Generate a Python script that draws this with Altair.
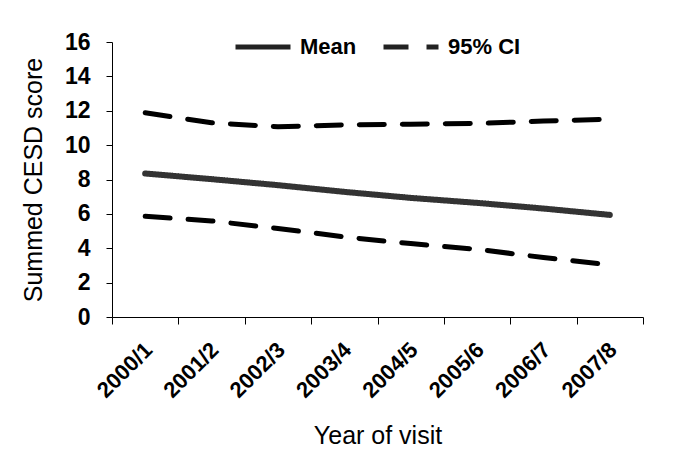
import altair as alt
import pandas as pd

years = ["2000/1", "2001/2", "2002/3", "2003/4", "2004/5", "2005/6", "2006/7", "2007/8"]
mean = [8.35, 8.02, 7.67, 7.28, 6.93, 6.64, 6.31, 5.94]
upper = [11.88, 11.30, 11.07, 11.18, 11.22, 11.26, 11.40, 11.51]
lower = [5.86, 5.59, 5.15, 4.66, 4.27, 3.94, 3.46, 3.03]
y_ticks = [0, 2, 4, 6, 8, 10, 12, 14, 16]
kinds = ["Mean", "95% CI"]

rows = []
for yr, m, u, l in zip(years, mean, upper, lower):
    rows.append({"year": yr, "value": m, "series": "Mean", "kind": "Mean"})
    rows.append({"year": yr, "value": u, "series": "Upper", "kind": "95% CI"})
    rows.append({"year": yr, "value": l, "series": "Lower", "kind": "95% CI"})
df = pd.DataFrame(rows)

FONT = "Liberation Sans"

x = alt.X(
    "year:N", sort=years, title="Year of visit",
    scale=alt.Scale(type="band", paddingInner=0, paddingOuter=0),
    axis=alt.Axis(labelAngle=315, tickBand="extent", labelAlign="right",
                  labelBaseline="middle", labelFontWeight="bold", labelFontSize=22,
                  labelPadding=22, labelOffset=3, tickSize=7, titleFontSize=25,
                  titleFontWeight="normal", titlePadding=22, domainColor="black",
                  tickColor="black", labelColor="black", titleColor="black"),
)
y = alt.Y(
    "value:Q", title="Summed CESD score",
    scale=alt.Scale(domain=[0, 16], nice=False),
    axis=alt.Axis(values=y_ticks, labelFontWeight="bold", labelFontSize=23,
                  tickSize=6, labelPadding=16, titleFontSize=25, titleFontWeight="normal",
                  titlePadding=18, domainColor="black", tickColor="black", grid=False,
                  labelColor="black", titleColor="black"),
)
dash = alt.StrokeDash(
    "kind:N",
    scale=alt.Scale(domain=kinds, range=[[1, 0], [25, 18]]),
    legend=alt.Legend(title=None, orient="none", direction="horizontal",
                      legendX=121, legendY=-25, symbolType="stroke", symbolSize=3025,
                      symbolStrokeWidth=5, symbolStrokeColor="#222222",
                      labelFontSize=22, labelFontWeight="bold", labelColor="black",
                      labelOffset=7, columnPadding=16),
)

mean_line = alt.Chart(df).transform_filter(alt.datum.kind == "Mean").mark_line(
    color="#333333", strokeWidth=6, strokeCap="round"
).encode(x=x, y=y, strokeDash=dash)

ci_lines = alt.Chart(df).transform_filter(alt.datum.kind == "95% CI").mark_line(
    color="black", strokeWidth=5, strokeCap="round"
).encode(x=x, y=y, strokeDash=dash, detail="series:N")

chart = alt.layer(mean_line, ci_lines).properties(
    width=531, height=275,
    autosize=alt.AutoSizeParams(type="none"),
    padding={"left": 104, "top": 34, "right": 44, "bottom": 145},
).configure(font=FONT).configure_view(strokeWidth=0).configure_axis(grid=False)

chart.save("out.html", embed_options={"renderer": "svg", "actions": False})
